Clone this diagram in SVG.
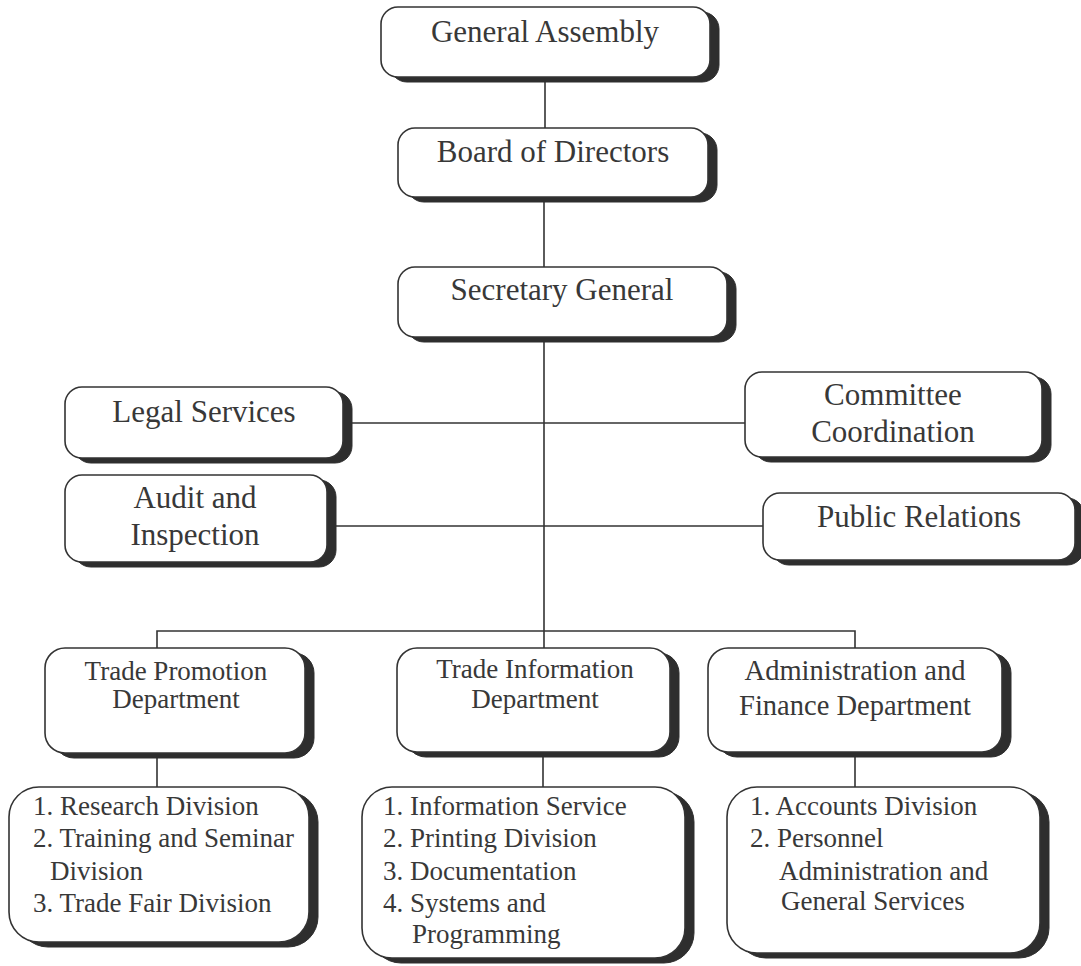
<svg xmlns="http://www.w3.org/2000/svg" width="1081" height="966" viewBox="0 0 1081 966">
<style>
.sh{fill:#2e2e2e;stroke:#2e2e2e;stroke-width:1}
.bx{fill:#ffffff;stroke:#333333;stroke-width:1.6}
.ln{stroke:#333333;stroke-width:1.6;fill:none}
text{font-family:"Liberation Serif","Times New Roman",serif;fill:#383838}
.t1{font-size:31px;text-anchor:middle}
.t2{font-size:31px;text-anchor:middle}
.t3{font-size:27px;text-anchor:middle}
.t4{font-size:27px}
</style>
<rect width="1081" height="966" fill="#ffffff"/>
<g id="connectors">
<line class="ln" x1="545" y1="77" x2="545" y2="128"/>
<line class="ln" x1="544" y1="197" x2="544" y2="267"/>
<line class="ln" x1="544" y1="337" x2="544" y2="648"/>
<line class="ln" x1="343" y1="423" x2="745" y2="423"/>
<line class="ln" x1="327" y1="526" x2="763" y2="526"/>
<polyline class="ln" points="157,648 157,631 855,631 855,648"/>
<line class="ln" x1="157" y1="753" x2="157" y2="787"/>
<line class="ln" x1="543" y1="752" x2="543" y2="787"/>
<line class="ln" x1="855" y1="752" x2="855" y2="787"/>
</g>
<g id="general-assembly">
<rect class="sh" x="390" y="12" width="329" height="70" rx="17"/>
<rect class="bx" x="381" y="7" width="329" height="70" rx="17"/>
<text class="t1" x="545" y="42">General Assembly</text>
</g>
<g id="board-of-directors">
<rect class="sh" x="407" y="133" width="310" height="69" rx="17"/>
<rect class="bx" x="398" y="128" width="310" height="69" rx="17"/>
<text class="t1" x="553" y="162">Board of Directors</text>
</g>
<g id="secretary-general">
<rect class="sh" x="407" y="272" width="329" height="70" rx="17"/>
<rect class="bx" x="398" y="267" width="329" height="70" rx="17"/>
<text class="t1" x="562" y="300">Secretary General</text>
</g>
<g id="legal-services">
<rect class="sh" x="74" y="392" width="278" height="71" rx="17"/>
<rect class="bx" x="65" y="387" width="278" height="71" rx="17"/>
<text class="t2" x="204" y="422">Legal Services</text>
</g>
<g id="audit-inspection">
<rect class="sh" x="74" y="480" width="262" height="87" rx="17"/>
<rect class="bx" x="65" y="475" width="262" height="87" rx="17"/>
<text class="t2" x="195" y="508">Audit and</text>
<text class="t2" x="195" y="545">Inspection</text>
</g>
<g id="committee-coordination">
<rect class="sh" x="754" y="377" width="297" height="85" rx="17"/>
<rect class="bx" x="745" y="372" width="297" height="85" rx="17"/>
<text class="t2" x="893" y="405">Committee</text>
<text class="t2" x="893" y="442">Coordination</text>
</g>
<g id="public-relations">
<rect class="sh" x="772" y="498" width="312" height="67" rx="17"/>
<rect class="bx" x="763" y="493" width="312" height="67" rx="17"/>
<text class="t2" x="919" y="527">Public Relations</text>
</g>
<g id="trade-promotion-department">
<rect class="sh" x="54" y="653" width="260" height="105" rx="20"/>
<rect class="bx" x="45" y="648" width="260" height="105" rx="20"/>
<text class="t3" x="176" y="680">Trade Promotion</text>
<text class="t3" x="176" y="708">Department</text>
</g>
<g id="trade-information-department">
<rect class="sh" x="406" y="653" width="273" height="104" rx="20"/>
<rect class="bx" x="397" y="648" width="273" height="104" rx="20"/>
<text class="t3" x="535" y="678">Trade Information</text>
<text class="t3" x="535" y="708">Department</text>
</g>
<g id="administration-finance-department">
<rect class="sh" x="717" y="653" width="294" height="104" rx="20"/>
<rect class="bx" x="708" y="648" width="294" height="104" rx="20"/>
<text class="t3" x="855" y="680" style="font-size:28.5px">Administration and</text>
<text class="t3" x="855" y="715" style="font-size:28.5px">Finance Department</text>
</g>
<g id="trade-promotion-divisions">
<rect class="sh" x="18" y="792" width="300" height="155" rx="30"/>
<rect class="bx" x="9" y="787" width="300" height="155" rx="30"/>
<text class="t4" x="33" y="815">1. Research Division</text>
<text class="t4" x="33" y="847">2. Training and Seminar</text>
<text class="t4" x="50" y="880">Division</text>
<text class="t4" x="33" y="912">3. Trade Fair Division</text>
</g>
<g id="trade-information-divisions">
<rect class="sh" x="371" y="792" width="323" height="171" rx="30"/>
<rect class="bx" x="362" y="787" width="323" height="171" rx="30"/>
<text class="t4" x="383" y="815">1. Information Service</text>
<text class="t4" x="383" y="847">2. Printing Division</text>
<text class="t4" x="383" y="880">3. Documentation</text>
<text class="t4" x="383" y="912">4. Systems and</text>
<text class="t4" x="412" y="943">Programming</text>
</g>
<g id="administration-finance-divisions">
<rect class="sh" x="736" y="792" width="313" height="166" rx="30"/>
<rect class="bx" x="727" y="787" width="313" height="166" rx="30"/>
<text class="t4" x="750" y="815">1. Accounts Division</text>
<text class="t4" x="750" y="847">2. Personnel</text>
<text class="t4" x="779" y="880">Administration and</text>
<text class="t4" x="781" y="910">General Services</text>
</g>
</svg>
